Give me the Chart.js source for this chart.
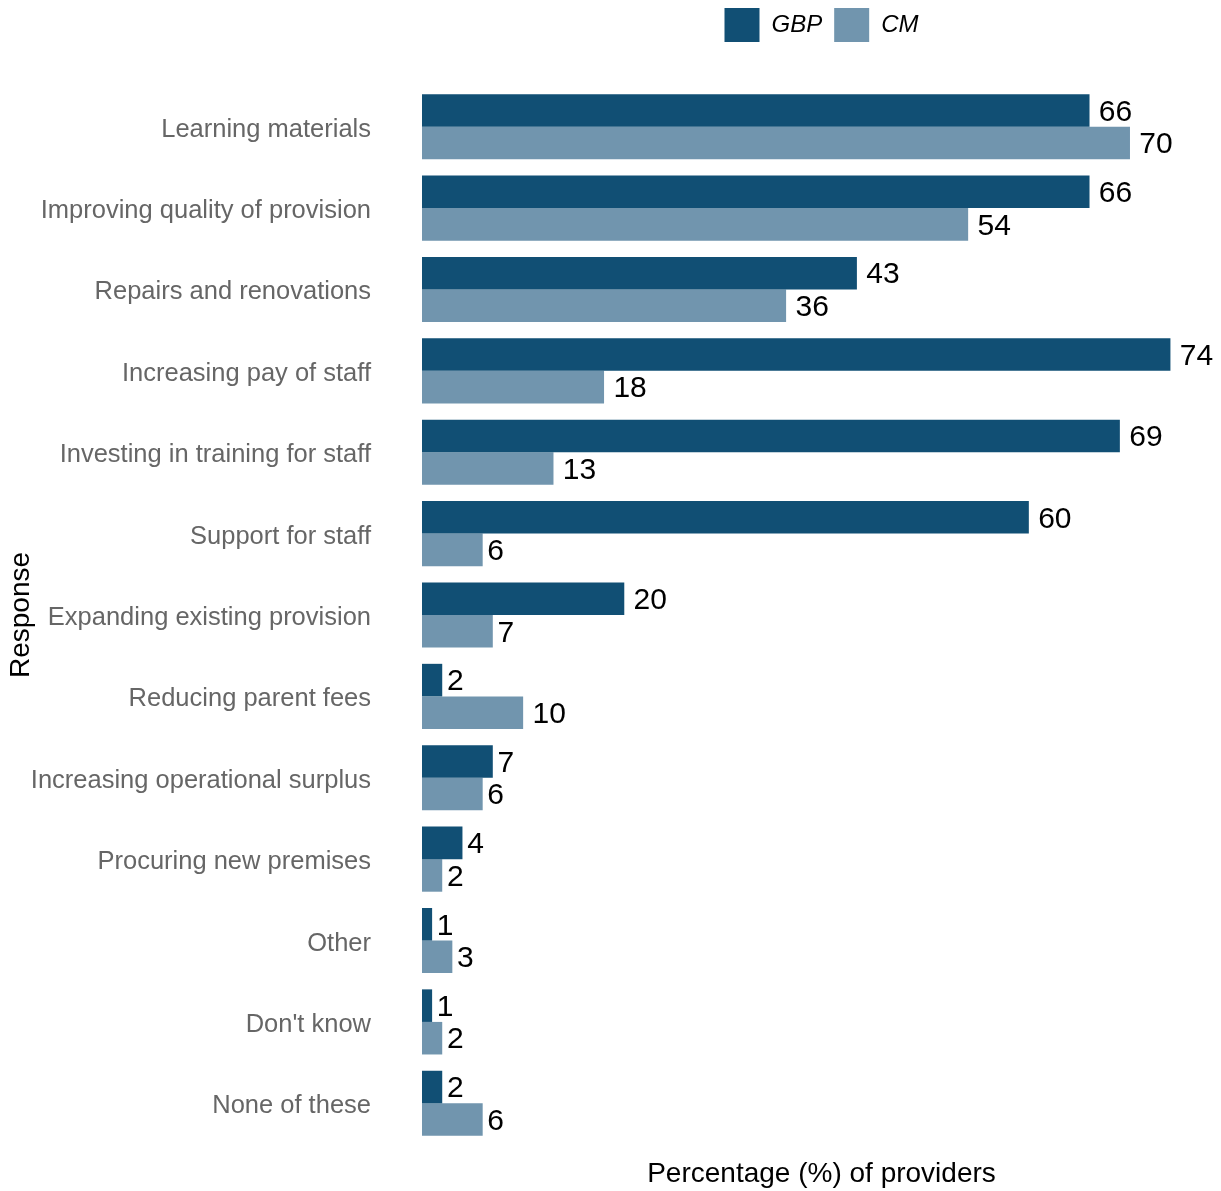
<!DOCTYPE html>
<html>
<head>
<meta charset="utf-8">
<script src="https://cdn.jsdelivr.net/npm/chart.js@4.4.1/dist/chart.umd.min.js"></script>
<style>
  html, body { margin: 0; padding: 0; background: #ffffff; }
  canvas { display: block; }
</style>
</head>
<body>
<canvas id="chart" width="1221" height="1191"></canvas>
<script>
// Uses of funding reported by providers (%)
const categories = [
  "Learning materials",
  "Improving quality of provision",
  "Repairs and renovations",
  "Increasing pay of staff",
  "Investing in training for staff",
  "Support for staff",
  "Expanding existing provision",
  "Reducing parent fees",
  "Increasing operational surplus",
  "Procuring new premises",
  "Other",
  "Don't know",
  "None of these"
];
const gbpValues = [66, 66, 43, 74, 69, 60, 20, 2, 7, 4, 1, 1, 2];
const cmValues  = [70, 54, 36, 18, 13, 6, 7, 10, 6, 2, 3, 2, 6];
const seriesNames = ["GBP", "CM"];
const seriesColors = ["#114f74", "#7195ae"];

const FONT = "'Liberation Sans', Arial, Helvetica, sans-serif";

// Writes each bar's value just past its end (offset grows with the text width)
const valueLabels = {
  id: 'valueLabels',
  afterDatasetsDraw(chart) {
    const ctx = chart.ctx;
    ctx.save();
    ctx.font = "30px " + FONT;
    ctx.fillStyle = "#000000";
    ctx.textAlign = "left";
    ctx.textBaseline = "middle";
    chart.data.datasets.forEach((ds, di) => {
      const meta = chart.getDatasetMeta(di);
      meta.data.forEach((bar, i) => {
        const txt = String(ds.data[i]);
        const w = ctx.measureText(txt).width;
        ctx.fillText(txt, bar.x + 0.28 * w, bar.y + 2);
      });
    });
    ctx.restore();
  }
};

// Leaves a gap between the legend and the plotting area
const legendGap = {
  id: 'legendGap',
  beforeInit(chart) {
    const originalFit = chart.legend.fit;
    chart.legend.fit = function fit() {
      originalFit.bind(chart.legend)();
      this.height += 34;
    };
  }
};

new Chart(document.getElementById('chart'), {
  type: 'bar',
  data: {
    labels: categories,
    datasets: [
      { label: seriesNames[0], data: gbpValues, backgroundColor: seriesColors[0] },
      { label: seriesNames[1], data: cmValues, backgroundColor: seriesColors[1] }
    ]
  },
  options: {
    indexAxis: 'y',
    responsive: false,
    devicePixelRatio: 1,
    animation: false,
    layout: { padding: { top: -4, left: 0, right: 0, bottom: 0 } },
    datasets: {
      bar: { categoryPercentage: 0.8, barPercentage: 1.0, borderWidth: 0 }
    },
    scales: {
      x: {
        min: 0,
        max: 79,
        grid: { display: false, drawTicks: false },
        border: { display: false },
        ticks: { display: false },
        title: {
          display: true,
          text: "Percentage (%) of providers",
          color: "#000000",
          font: { family: FONT, size: 28 },
          padding: { top: 0, bottom: 0 }
        },
        afterFit(scale) { scale.height = 47; }
      },
      y: {
        grid: { display: false, drawTicks: false, tickLength: 0 },
        border: { display: false },
        ticks: {
          autoSkip: false,
          padding: 51,
          labelOffset: 3,
          color: "#666666",
          font: { family: FONT, size: 25.5 }
        },
        title: {
          display: true,
          text: "Response",
          color: "#000000",
          font: { family: FONT, size: 28 },
          padding: { top: 4, bottom: 0 }
        },
        afterFit(scale) {
          scale.width = 422;
          scale.paddingTop = 0;
          scale.paddingBottom = 0;
        }
      }
    },
    plugins: {
      legend: {
        position: 'top',
        align: 'center',
        fullSize: false,
        labels: {
          boxWidth: 35,
          boxHeight: 34,
          padding: 12,
          color: "#000000",
          font: { family: FONT, size: 24, style: 'italic' }
        }
      },
      tooltip: { enabled: false }
    }
  },
  plugins: [valueLabels, legendGap]
});
</script>
</body>
</html>
